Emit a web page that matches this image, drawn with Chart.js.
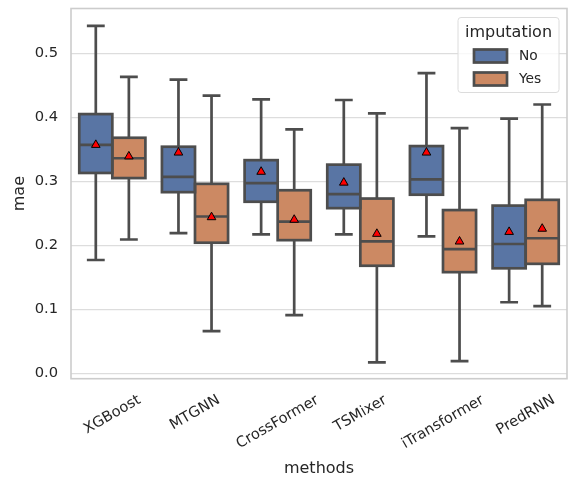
<!DOCTYPE html>
<html>
<head>
<meta charset="utf-8">
<script src="https://cdn.jsdelivr.net/npm/chart.js@4.4.0/dist/chart.umd.min.js"></script>
<style>
  html, body { margin: 0; padding: 0; background: #fff; }
</style>
</head>
<body>
<canvas id="boxChart" width="577" height="487"></canvas>
<script>
// categories and tick labels
const methods = ['XGBoost', 'MTGNN', 'CrossFormer', 'TSMixer', 'iTransformer', 'PredRNN'];
const yTicks = [0.0, 0.1, 0.2, 0.3, 0.4, 0.5];
const hueLabels = ['No', 'Yes'];

// imputation = No
const noLow    = [0.177, 0.219, 0.217, 0.217, 0.214, 0.111];
const noQ1     = [0.313, 0.283, 0.268, 0.258, 0.279, 0.164];
const noMedian = [0.357, 0.307, 0.297, 0.280, 0.303, 0.202];
const noQ3     = [0.405, 0.354, 0.333, 0.326, 0.355, 0.262];
const noHigh   = [0.543, 0.459, 0.428, 0.427, 0.469, 0.398];
const noMean   = [0.358, 0.346, 0.316, 0.299, 0.346, 0.222];

// imputation = Yes
const yesLow    = [0.209, 0.066, 0.091, 0.017, 0.019, 0.105];
const yesQ1     = [0.305, 0.204, 0.208, 0.168, 0.158, 0.171];
const yesMedian = [0.336, 0.245, 0.237, 0.206, 0.194, 0.211];
const yesQ3     = [0.368, 0.296, 0.286, 0.273, 0.255, 0.271];
const yesHigh   = [0.463, 0.434, 0.381, 0.406, 0.383, 0.420];
const yesMean   = [0.340, 0.245, 0.241, 0.219, 0.207, 0.227];

const groups = [
    { low: noLow, q1: noQ1, median: noMedian, q3: noQ3, high: noHigh, mean: noMean },
    { low: yesLow, q1: yesQ1, median: yesMedian, q3: yesQ3, high: yesHigh, mean: yesMean },
];
const fills = ['#5975a4', '#cc8963'];
const edge = '#4d4d4d';
const textColor = '#262626';
const fontFamily = "'DejaVu Sans', sans-serif";
const lw = 2.7;

// whiskers, caps, medians, box outlines and means, placed from the bar elements + y scale
const boxPlugin = {
    id: 'boxParts',
    afterDatasetsDraw(chart) {
        const ctx = chart.ctx;
        const y = chart.scales.y;
        ctx.save();
        ctx.strokeStyle = edge;
        ctx.lineWidth = lw;
        groups.forEach((g, d) => {
            chart.getDatasetMeta(d).data.forEach((bar, i) => {
                const x = bar.x, w = bar.width;
                const left = x - w / 2, right = x + w / 2;
                const pLow = y.getPixelForValue(g.low[i]);
                const pQ1 = y.getPixelForValue(g.q1[i]);
                const pMed = y.getPixelForValue(g.median[i]);
                const pQ3 = y.getPixelForValue(g.q3[i]);
                const pHigh = y.getPixelForValue(g.high[i]);
                const cap = w * 0.27;
                ctx.lineCap = 'butt';
                ctx.beginPath();
                ctx.moveTo(x, pQ3); ctx.lineTo(x, pHigh);
                ctx.moveTo(x, pQ1); ctx.lineTo(x, pLow);
                ctx.moveTo(x - cap, pHigh); ctx.lineTo(x + cap, pHigh);
                ctx.moveTo(x - cap, pLow); ctx.lineTo(x + cap, pLow);
                ctx.moveTo(left, pMed); ctx.lineTo(right, pMed);
                ctx.stroke();
                ctx.lineJoin = 'miter';
                ctx.strokeRect(left, pQ3, w, pQ1 - pQ3);
            });
        });
        groups.forEach((g, d) => {
            chart.getDatasetMeta(d).data.forEach((bar, i) => {
                const x = bar.x, py = y.getPixelForValue(g.mean[i]);
                const s = 4.3;
                ctx.beginPath();
                ctx.moveTo(x, py - s);
                ctx.lineTo(x + s, py + s * 0.75);
                ctx.lineTo(x - s, py + s * 0.75);
                ctx.closePath();
                ctx.fillStyle = '#ff0000';
                ctx.fill();
                ctx.lineWidth = 1;
                ctx.strokeStyle = '#000';
                ctx.stroke();
            });
            ctx.strokeStyle = edge;
            ctx.lineWidth = lw;
        });
        ctx.restore();
    },
    afterDraw(chart) {
        const ctx = chart.ctx;
        const area = chart.chartArea;
        const xs = chart.scales.x;
        ctx.save();
        // frame
        ctx.strokeStyle = '#cccccc';
        ctx.lineWidth = 1.6;
        ctx.strokeRect(area.left, area.top, area.right - area.left, area.bottom - area.top);

        // rotated, centered category labels
        ctx.fillStyle = textColor;
        ctx.font = '14.7px ' + fontFamily;
        ctx.textAlign = 'center';
        ctx.textBaseline = 'middle';
        const ang = 30 * Math.PI / 180;
        methods.forEach((m, i) => {
            const tw = ctx.measureText(m).width;
            const th = 17;
            const bh = tw * Math.sin(ang) + th * Math.cos(ang);
            const cx = xs.getPixelForValue(i);
            const cy = area.bottom + 13 + bh / 2;
            ctx.save();
            ctx.translate(cx, cy);
            ctx.rotate(-ang);
            ctx.fillText(m, 0, 0);
            ctx.restore();
        });

        // legend
        const bw = 101, bhL = 75;
        const bx = area.right - 8 - bw, by = area.top + 9;
        ctx.beginPath();
        ctx.roundRect(bx, by, bw, bhL, 3);
        ctx.fillStyle = 'rgba(255,255,255,0.8)';
        ctx.fill();
        ctx.strokeStyle = '#dcdcdc';
        ctx.lineWidth = 1;
        ctx.stroke();
        ctx.fillStyle = textColor;
        ctx.font = '16px ' + fontFamily;
        ctx.textAlign = 'center';
        ctx.fillText('imputation', bx + bw / 2, by + 15);
        ctx.font = '13.8px ' + fontFamily;
        ctx.textAlign = 'left';
        hueLabels.forEach((lab, k) => {
            const py = by + 32 + k * 23;
            ctx.fillStyle = fills[k];
            ctx.fillRect(bx + 16, py, 33, 13);
            ctx.strokeStyle = edge;
            ctx.lineWidth = 2.7;
            ctx.strokeRect(bx + 16, py, 33, 13);
            ctx.fillStyle = textColor;
            ctx.fillText(lab, bx + 61, py + 7);
        });
        ctx.restore();
    },
};

new Chart(document.getElementById('boxChart'), {
    type: 'bar',
    data: {
        labels: methods,
        datasets: groups.map((g, d) => ({
            label: hueLabels[d],
            data: g.q1.map((v, i) => [v, g.q3[i]]),
            backgroundColor: fills[d],
            borderWidth: 0,
            categoryPercentage: 0.8,
            barPercentage: 1.0,
        })),
    },
    options: {
        responsive: false,
        animation: false,
        layout: { padding: { left: 0, top: 8.5, right: 10, bottom: 0 } },
        plugins: {
            legend: { display: false },
            tooltip: { enabled: false },
        },
        scales: {
            x: {
                grid: { display: false },
                border: { display: false },
                ticks: { display: false },
                title: {
                    display: true, text: 'methods', color: textColor,
                    font: { family: fontFamily, size: 16 },
                    padding: { top: 0, bottom: 9 },
                },
                afterFit: (s) => { s.height = 108.3; s.paddingLeft = 0; s.paddingRight = 0; },
            },
            y: {
                min: -0.0085,
                max: 0.570,
                afterBuildTicks: (s) => { s.ticks = yTicks.map(v => ({ value: v })); },
                grid: { color: '#dddddd', lineWidth: 1.3, drawTicks: false },
                border: { display: false },
                ticks: {
                    color: textColor, padding: 13,
                    font: { family: fontFamily, size: 14.7 },
                    callback: (v) => v.toFixed(1),
                },
                title: {
                    display: true, text: 'mae', color: textColor,
                    font: { family: fontFamily, size: 16 },
                    padding: { top: 10, bottom: 0 },
                },
                afterFit: (s) => { s.width = 71; s.paddingTop = 0; s.paddingBottom = 0; },
            },
        },
    },
    plugins: [boxPlugin],
});
</script>
</body>
</html>
